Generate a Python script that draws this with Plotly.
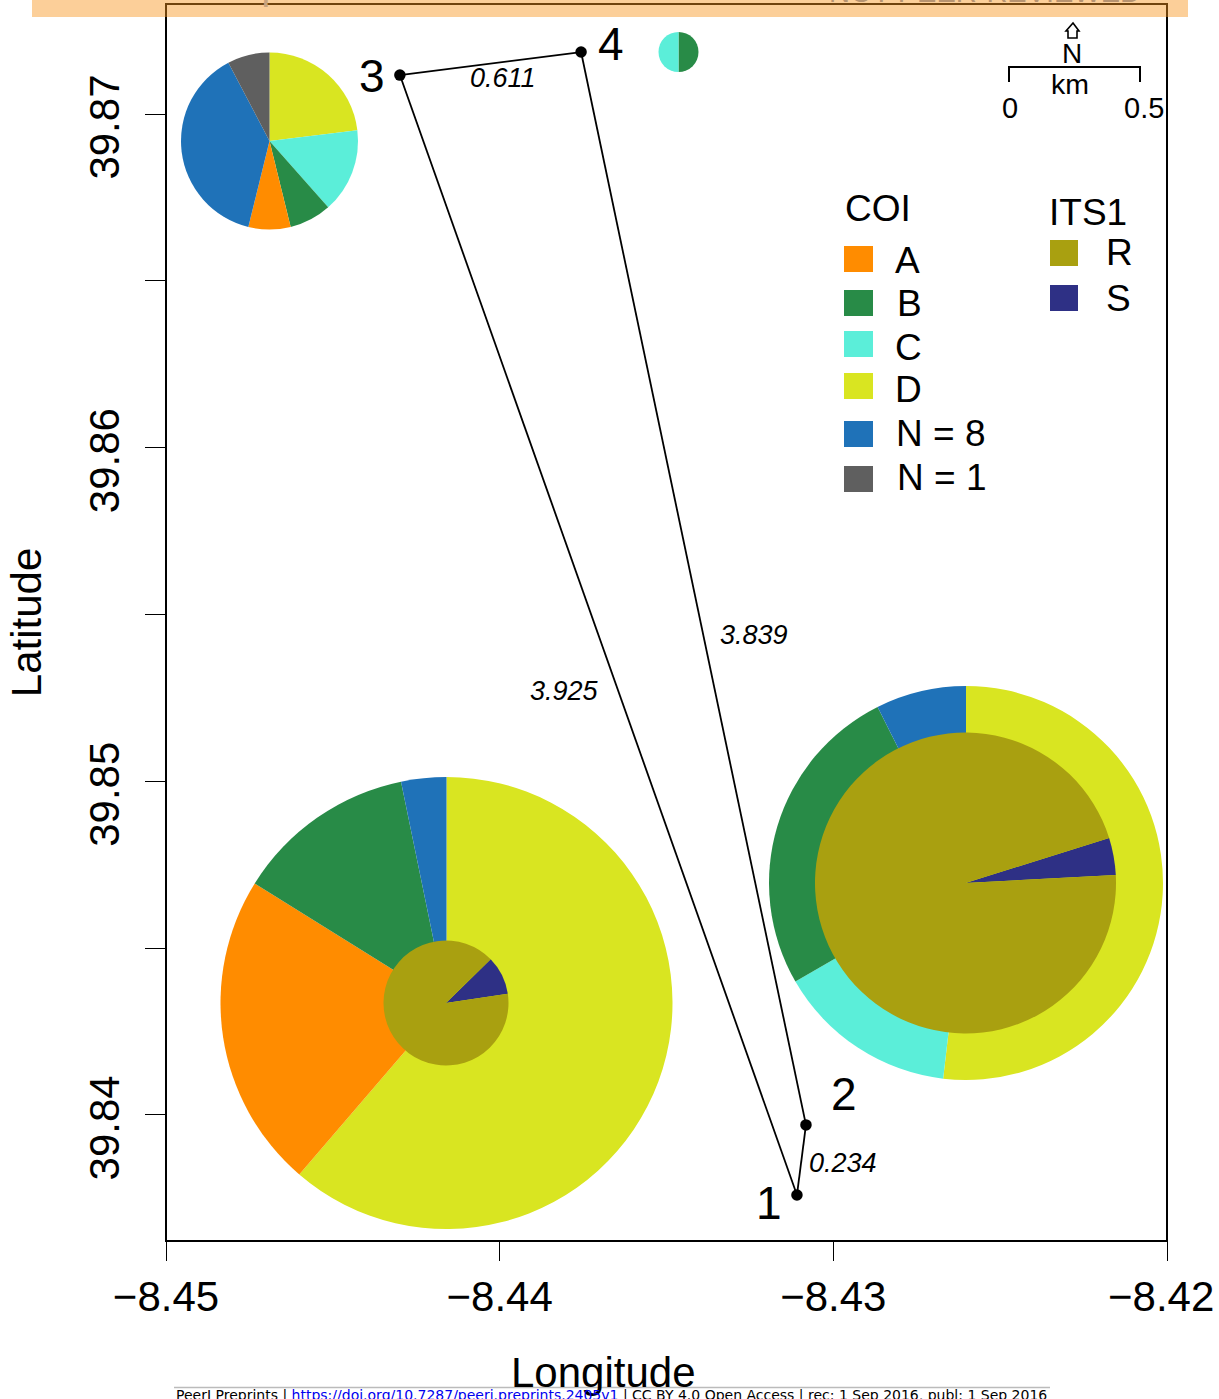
import plotly.graph_objects as go

# ---- data ----
site_names = ["1", "2", "3", "4"]
site_lon = [-8.43109, -8.43082, -8.44299, -8.43756]
site_lat = [39.8376, 39.8397, 39.87117, 39.87186]
edge_from = [0, 0, 1, 2]
edge_to = [1, 2, 3, 3]
edge_km = ["0.234", "3.925", "3.839", "0.611"]

coi_labels = ["D", "C", "B", "A", "N = 8", "N = 1"]
coi_site1 = [19, 0, 4, 7, 1, 0]
coi_site2 = [14, 4, 7, 0, 2, 0]
coi_site3 = [3, 2, 1, 1, 5, 1]
coi_site4 = [0, 1, 1, 0, 0, 0]

its_labels = ["S", "R"]
its_site1 = [1, 9]
its_site2 = [1, 24]

NB = "\u00a0"
HS = "\u200a"
x_tickvals = [-8.45, -8.44, -8.43, -8.42]
x_ticktext = ["\u22128.45", "\u22128.44", "\u22128.43", "\u22128.42" + NB]
y_tickvals = [39.84, 39.85, 39.86, 39.87]
y_ticktext = ["39.84" + NB * 3 + HS, "39.85" + NB * 3 + HS, "39.86" + NB * 3 + HS, "39.87" + NB * 3 + HS]
y_minorvals = [39.845, 39.855, 39.865]

# ---- style ----
COL = {"A": "#FF8C00", "B": "#288B47", "C": "#5BEED9", "D": "#D9E521",
       "N = 8": "#1F72B8", "N = 1": "#5F5F5F", "R": "#A9A010", "S": "#2E3085"}
FONT = "Liberation Sans"
W, H = 1219, 1399
L, R, T, B = 166, 1167, 4, 1241


def fx(px):
    return (px - L) / (R - L)


def fy(py):
    return (B - py) / (B - T)


def pie(labels, values, cx, cy, r, rotation=0, name=""):
    lab = [l for l, v in zip(labels, values) if v]
    val = [v for v in values if v]
    return go.Pie(labels=lab, values=val, sort=False, direction="clockwise", rotation=rotation,
                  textinfo="none", showlegend=False, name=name,
                  marker=dict(colors=[COL[l] for l in lab], line=dict(width=0)),
                  domain=dict(x=[fx(cx - r), fx(cx + r)], y=[fy(cy + r), fy(cy - r)]))


fig = go.Figure()
for a, b in zip(edge_from, edge_to):
    fig.add_trace(go.Scatter(x=[site_lon[a], site_lon[b]], y=[site_lat[a], site_lat[b]], mode="lines",
                             line=dict(color="black", width=1.8), showlegend=False, hoverinfo="skip"))
fig.add_trace(go.Scatter(x=site_lon, y=site_lat, mode="markers", text=site_names, showlegend=False,
                         marker=dict(color="black", size=11.5), cliponaxis=False))

order1 = ["D", "A", "B", "N = 8"]
fig.add_trace(pie(order1, [coi_site1[coi_labels.index(k)] for k in order1], 446.5, 1003, 226, name="COI site 1"))
fig.add_trace(pie(its_labels, its_site1, 446, 1003, 62.5, 45.6, name="ITS1 site 1"))
fig.add_trace(pie(coi_labels, coi_site2, 966, 883, 197, name="COI site 2"))
fig.add_trace(pie(its_labels, its_site2, 965.5, 883, 150.5, 72.6, name="ITS1 site 2"))
fig.add_trace(pie(coi_labels, coi_site3, 269.5, 141, 88.5, name="COI site 3"))
fig.add_trace(pie(["B", "C"], [coi_site4[2], coi_site4[1]], 678.5, 52, 20, name="COI site 4"))


def text(s, px, py, size, **kw):
    fig.add_annotation(text=s, x=fx(px), y=fy(py), xref="paper", yref="paper", showarrow=False,
                       xanchor=kw.pop("xanchor", "center"), yanchor="middle",
                       font=dict(family=kw.pop("family", FONT), size=size, color=kw.pop("color", "black")), **kw)


# site numbers
for s, (px, py) in zip(site_names, [(769, 1203), (843.5, 1094), (372, 76), (611, 44)]):
    text(s, px, py, 46)
# distances
for s, (px, py) in zip(edge_km, [(843, 1163), (564, 691), (754, 635), (502.5, 78)]):
    text("<i>" + s + "</i>", px, py, 27)

# legends
text("COI", 878, 209, 37)
text("ITS1", 1088, 212, 37)
coi_rows = [("A", 259, 907, 260), ("B", 303, 909, 303), ("C", 344, 908, 347),
            ("D", 386, 908, 390), ("N = 8", 434, 940, 433), ("N = 1", 479, 941, 478)]
shapes = [dict(type="rect", xref="paper", yref="paper", x0=0, x1=1, y0=0, y1=1,
               line=dict(color="black", width=2), fillcolor="rgba(0,0,0,0)")]
for k, cy, tx, ty in coi_rows:
    shapes.append(dict(type="rect", xref="paper", yref="paper", x0=fx(844), x1=fx(873), y0=fy(cy - 13), y1=fy(cy + 13),
                       fillcolor=COL[k], line=dict(width=0)))
    text(k, tx, ty, 37)
for k, cy, tx, ty in [("R", 253, 1119, 253), ("S", 298, 1118, 298)]:
    shapes.append(dict(type="rect", xref="paper", yref="paper", x0=fx(1050), x1=fx(1078), y0=fy(cy - 13), y1=fy(cy + 13),
                       fillcolor=COL[k], line=dict(width=0)))
    text(k, tx, ty, 37)

# scale bar and north arrow
def path(points, close=False):
    s = "M " + " L ".join(f"{fx(x):.5f} {fy(y):.5f}" for x, y in points)
    return s + (" Z" if close else "")


shapes.append(dict(type="path", xref="paper", yref="paper", path=path([(1009, 82), (1009, 67), (1140, 67), (1140, 82)]),
                   line=dict(color="black", width=2)))
shapes.append(dict(type="path", xref="paper", yref="paper",
                   path=path([(1073, 23), (1079, 31), (1077, 31), (1077, 38), (1068, 38), (1068, 31), (1066, 31)], True),
                   line=dict(color="black", width=1.6)))
text("N", 1072, 53, 28)
text("km", 1070, 84, 28.5)
text("0", 1010, 108, 29)
text("0.5", 1144, 108, 29)

# axis title
text("Longitude", 603, 1372, 42)

# page furniture
shapes.append(dict(type="rect", xref="paper", yref="paper", x0=fx(32), x1=fx(1188), y0=fy(17), y1=fy(-4),
                   fillcolor="#F8941D", opacity=0.45, line=dict(width=0), layer="above"))
shapes.append(dict(type="line", xref="paper", yref="paper", x0=fx(174), x1=fx(1050), y0=fy(1387.5), y1=fy(1387.5),
                   line=dict(color="#BBBBBB", width=1.5)))
text('PeerJ <span style="color:#C8A27C">Preprints</span>', 220, -15, 41, color="#FFF0E0")
text("NOT PEER-REVIEWED", 985, -8, 29, color="#B79370")
text('PeerJ Preprints | <span style="color:#0000EE">https://doi.org/10.7287/peerj.preprints.2405v1</span>'
     ' | CC BY 4.0 Open Access | rec: 1 Sep 2016, publ: 1 Sep 2016', 611.5, 1395.5, 14, family="DejaVu Sans")

fig.update_layout(
    width=W, height=H, margin=dict(l=L, r=W - R, t=T, b=H - B, pad=0, autoexpand=False),
    paper_bgcolor="white", plot_bgcolor="white", shapes=shapes, showlegend=False,
    font=dict(family=FONT, color="black"),
    xaxis=dict(range=[x_tickvals[0], x_tickvals[-1]], tickmode="array", tickvals=x_tickvals, ticktext=x_ticktext,
               ticks="outside", ticklen=19, tickwidth=1.4, tickcolor="black", tickfont=dict(size=42), tickangle=0,
               showline=False, showgrid=False, zeroline=False,
               ticklabeloverflow="allow", ticklabelstandoff=0),
    yaxis=dict(range=[39.83622, 39.8733], tickmode="array", tickvals=y_tickvals, ticktext=y_ticktext,
               ticks="outside", ticklen=20, tickwidth=1.4, tickcolor="black", tickfont=dict(size=42), tickangle=-90,
               showline=False, showgrid=False, zeroline=False,
               ticklabeloverflow="allow", ticklabelstandoff=9,
               minor=dict(tickmode="array", tickvals=y_minorvals, ticks="outside", ticklen=20, tickwidth=1.4, tickcolor="black", showgrid=False),
               title=dict(text="Latitude", font=dict(size=42), standoff=26)),
)
fig.write_html("out.html", config=dict(displayModeBar=False),
               post_script="document.body.style.margin='0';document.documentElement.style.overflow='hidden';")
